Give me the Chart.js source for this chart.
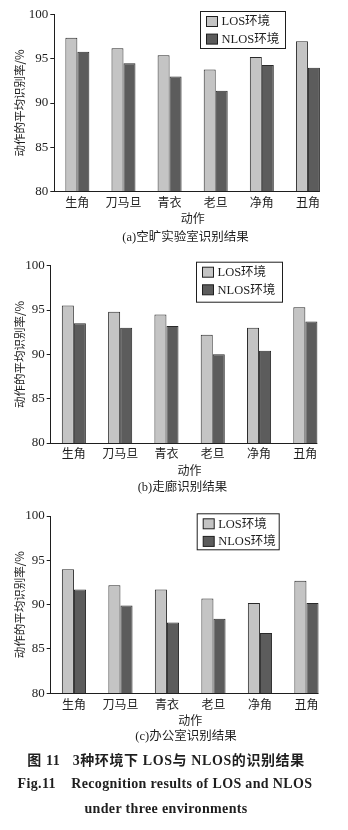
<!DOCTYPE html>
<html lang="zh">
<head>
<meta charset="UTF-8" />
<title>3种环境下LOS与NLOS的识别结果</title>
<style>
  body { margin: 0; width: 348px; height: 830px; background: #fff; position: relative; overflow: hidden; }
  canvas { position: absolute; left: 0; }
  .cap { position: absolute; white-space: nowrap; transform: translateX(-50%); color: #1e1e1e;
         font-family: "Liberation Serif", "Noto Sans CJK SC", serif; }
  .sub { font-size: 12.5px; line-height: 16px; }
  .fig { font-size: 14px; line-height: 18px; font-weight: bold; letter-spacing: 0.6px; }
  .fig.en { letter-spacing: 0.35px; }
</style>
</head>
<body>
<canvas id="chartA" width="348" height="232" style="top:0px"></canvas>
<canvas id="chartB" width="348" height="232" style="top:250px"></canvas>
<canvas id="chartC" width="348" height="232" style="top:500px"></canvas>

<div class="cap sub" style="left:185.5px; top:228.7px">(a)空旷实验室识别结果</div>
<div class="cap sub" style="left:182.5px; top:479.3px">(b)走廊识别结果</div>
<div class="cap sub" style="left:186px; top:728px">(c)办公室识别结果</div>
<div class="cap fig" style="left:166px; top:752px">图 11&nbsp;&nbsp;&nbsp;3种环境下 LOS与 NLOS的识别结果</div>
<div class="cap fig en" style="left:165px; top:775.3px">Fig.11&nbsp;&nbsp;&nbsp;&nbsp;Recognition results of LOS and NLOS</div>
<div class="cap fig en" style="left:166px; top:800px">under three environments</div>

<script src="https://cdn.jsdelivr.net/npm/chart.js"></script>
<script>
"use strict";
// actions (categories) and average recognition rates in %
const actions = ["生角", "刀马旦", "青衣", "老旦", "净角", "丑角"];
const openLabLOS = [97.4, 96.2, 95.4, 93.8, 95.2, 97.0];
const openLabNLOS = [95.8, 94.5, 93.0, 91.4, 94.3, 94.0];
const corridorLOS = [95.5, 94.8, 94.5, 92.2, 93.0, 95.3];
const corridorNLOS = [93.5, 93.0, 93.2, 90.0, 90.4, 93.7];
const officeLOS = [94.0, 92.2, 91.7, 90.7, 90.2, 92.7];
const officeNLOS = [91.7, 89.9, 88.0, 88.4, 86.8, 90.2];
const seriesNames = ["LOS环境", "NLOS环境"];
const yMin = 80, yMax = 100, yStep = 5;

Chart.defaults.font.family = '"Liberation Serif", "Noto Sans CJK SC", serif';
Chart.defaults.color = "#1e1e1e";

// boxed legend inside the plot + x axis line that stops at the last bar
const frame = {
  id: "frame",
  afterDatasetsDraw(chart, args, opts) {
    const ctx = chart.ctx;
    const area = chart.chartArea;
    const sets = chart.data.datasets;
    const lastMeta = chart.getDatasetMeta(sets.length - 1);
    const lastBar = lastMeta.data[lastMeta.data.length - 1];
    const yb = Math.round(area.bottom) + 0.5;
    ctx.save();
    ctx.strokeStyle = "#1e1e1e";
    ctx.lineWidth = 1;
    ctx.beginPath();
    ctx.moveTo(area.left, yb);
    ctx.lineTo(lastBar.x + lastBar.width / 2, yb);
    ctx.stroke();

    const b = opts.box;
    ctx.fillStyle = "#fff";
    ctx.fillRect(b.x, b.y, b.w, b.h);
    ctx.strokeRect(b.x + 0.5, b.y + 0.5, b.w, b.h);
    ctx.font = '12.5px "Liberation Serif", "Noto Sans CJK SC", serif';
    ctx.textBaseline = "middle";
    sets.forEach((ds, i) => {
      const cy = b.y + 10.5 + i * 17.6;
      ctx.fillStyle = ds.backgroundColor;
      ctx.fillRect(b.x + 6.5, cy - 5, 11, 10);
      ctx.strokeRect(b.x + 6.5, cy - 5, 11, 10);
      ctx.fillStyle = "#1e1e1e";
      ctx.fillText(ds.label, b.x + 21.5, cy + 0.5);
    });
    ctx.restore();
  }
};

function makeChart(id, los, nlos, g) {
  const H = 232, W = 348;
  return new Chart(document.getElementById(id), {
    type: "bar",
    data: {
      labels: actions,
      datasets: [
        { label: seriesNames[0], data: los, backgroundColor: "#c4c4c4", borderColor: "#2a2a2a", borderWidth: 1 },
        { label: seriesNames[1], data: nlos, backgroundColor: "#5c5c5c", borderColor: "#2a2a2a", borderWidth: 1 }
      ]
    },
    options: {
      responsive: false,
      animation: false,
      events: [],
      layout: { padding: { left: 0, top: g.top, right: W - g.right, bottom: 0 } },
      datasets: { bar: { categoryPercentage: 0.52, barPercentage: 1.0 } },
      plugins: {
        legend: { display: false },
        tooltip: { enabled: false },
        frame: { box: g.box }
      },
      scales: {
        x: {
          grid: { display: false, drawTicks: false },
          border: { display: false },
          ticks: { padding: g.tickPad, font: { size: 12 }, maxRotation: 0 },
          title: { display: true, text: "动作", font: { size: 12 }, padding: { top: g.titlePad, bottom: g.titlePad } },
          afterFit: (s) => { s.height = H - g.bottom; }
        },
        y: {
          min: yMin,
          max: yMax,
          ticks: { stepSize: yStep, padding: 2, font: { size: 13 } },
          grid: { drawOnChartArea: false, drawTicks: true, tickLength: 4, color: "#1e1e1e" },
          border: { display: true, color: "#1e1e1e", width: 1 },
          title: {
            display: true,
            text: "动作的平均识别率/%",
            font: { family: '"Noto Sans CJK SC", sans-serif', size: 11.5 },
            padding: { top: 13, bottom: 0 }
          },
          afterFit: (s) => { s.width = g.left; }
        }
      }
    },
    plugins: [frame]
  });
}

makeChart("chartA", openLabLOS, openLabNLOS, {
  left: 54.3, top: 14.7, bottom: 191.3, right: 331, tickPad: 5, titlePad: 4.6,
  box: { x: 200, y: 11, w: 85, h: 37 }
});
makeChart("chartB", corridorLOS, corridorNLOS, {
  left: 50.7, top: 15.7, bottom: 193, right: 328.5, tickPad: 5, titlePad: 2.9,
  box: { x: 196, y: 11.7, w: 86, h: 40 }
});
makeChart("chartC", officeLOS, officeNLOS, {
  left: 50.7, top: 16, bottom: 193.3, right: 329.7, tickPad: 5, titlePad: 2.6,
  box: { x: 196.7, y: 13.3, w: 82, h: 36 }
});
</script>
</body>
</html>
